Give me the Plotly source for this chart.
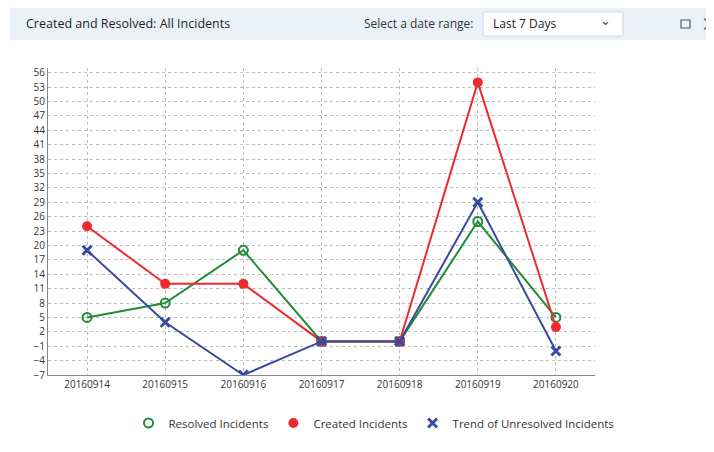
import plotly.graph_objects as go

categories = ["20160914", "20160915", "20160916", "20160917", "20160918", "20160919", "20160920"]
resolved = [5, 8, 19, 0, 0, 25, 5]
created = [24, 12, 12, 0, 0, 54, 3]
trend = [19, 4, -7, 0, 0, 29, -2]
y_ticks = list(range(-7, 57, 3))

GREEN = "#228b38"
RED = "#ee2a2e"
BLUE = "#3a4aa0"
FONT = "Open Sans, Noto Sans, sans-serif"

OFF = 8  # page body margin
W, H = 714 - OFF, 452 - OFF
L, T = 48 - OFF, 68 - OFF
R = W - (595 - OFF)
B = H - (375 - OFF)
PW = W - L - R
PH = H - T - B

def px(xp, yp):
    return (xp - OFF - L) / PW, (H - B - (yp - OFF)) / PH

fig = go.Figure()
specs = [
    ("Resolved Incidents", resolved, GREEN,
     dict(symbol="circle-open", size=9, color=GREEN, line=dict(width=2, color=GREEN))),
    ("Created Incidents", created, RED,
     dict(symbol="circle", size=10, color=RED)),
    ("Trend of Unresolved Incidents", trend, BLUE,
     dict(symbol="x-thin", size=9, color=BLUE, line=dict(width=3, color=BLUE))),
]
for name, vals, col, mk in specs:
    fig.add_trace(go.Scatter(
        x=categories, y=vals, name=name, mode="lines+markers",
        line=dict(color=col, width=2), marker=mk, showlegend=False, legendgroup=name,
    ))
for name, vals, col, mk in specs:
    fig.add_trace(go.Scatter(
        x=[None], y=[None], name=name, mode="markers", marker=mk,
        showlegend=True, legendgroup=name,
    ))

def rect(xa, ya, xb, yb, **kw):
    ax, ay = px(xa, ya)
    bx, by = px(xb, yb)
    return dict(type="rect", xref="paper", yref="paper", x0=ax, x1=bx, y0=by, y1=ay, **kw)

def seg(xa, ya, xb, yb, color, width):
    ax, ay = px(xa, ya)
    bx, by = px(xb, yb)
    return dict(type="line", xref="paper", yref="paper", x0=ax, x1=bx, y0=ay, y1=by,
                line=dict(color=color, width=width))

shapes = [
    rect(10, 8, 760, 40, fillcolor="#eaf1f9", line=dict(width=0), layer="below"),
    rect(483, 12, 623, 36, fillcolor="white", line=dict(width=1, color="#cfd6de")),
    rect(681, 20, 690, 28, fillcolor="rgba(0,0,0,0)", line=dict(width=1.2, color="#555")),
    seg(704, 18.5, 715, 29.5, "#555", 1.2),
    seg(704, 29.5, 715, 18.5, "#555", 1.2),
]

annotations = []
def ann(text, xp, yp, size=12, color="#333", anchor="left"):
    x, y = px(xp, yp)
    annotations.append(dict(text=text, x=x, y=y, xref="paper", yref="paper",
                            xanchor=anchor, yanchor="middle", showarrow=False,
                            font=dict(size=size, color=color, family=FONT)))

ann("Created and Resolved: All Incidents", 24, 24, size=12.5, color="#1e1e1e")
ann("Select a date range:", 476, 24, size=12, color="#333", anchor="right")
ann("Last 7 Days", 491, 24, size=12, color="#222")
ann("⌄", 605, 20, size=13, color="#444", anchor="center")

fig.update_layout(
    width=W, height=H,
    margin=dict(l=L, r=R, t=T, b=B),
    paper_bgcolor="white", plot_bgcolor="white",
    font=dict(family=FONT, size=10, color="#333"),
    showlegend=True,
    legend=dict(orientation="h", x=(374 - OFF) / W, xref="container", xanchor="center",
                y=(452 - 423) / H, yref="container", yanchor="middle",
                font=dict(size=11.5, color="#333", family=FONT), itemwidth=30,
                tracegroupgap=0),
    shapes=shapes,
    annotations=annotations,
    xaxis=dict(
        type="category", range=[-0.5, 6.5],
        showgrid=True, gridcolor="#bdbdbd", griddash="dot", gridwidth=1,
        showline=True, linecolor="#888", linewidth=1,
        ticks="", tickfont=dict(size=10, color="#333"), fixedrange=True,
    ),
    yaxis=dict(
        range=[-7, 57], tickvals=y_ticks,
        showgrid=True, gridcolor="#bdbdbd", griddash="dot", gridwidth=1,
        showline=True, linecolor="#888", linewidth=1, zeroline=False,
        ticks="", tickfont=dict(size=10, color="#333"), fixedrange=True,
    ),
)

fig.write_html("out.html")
